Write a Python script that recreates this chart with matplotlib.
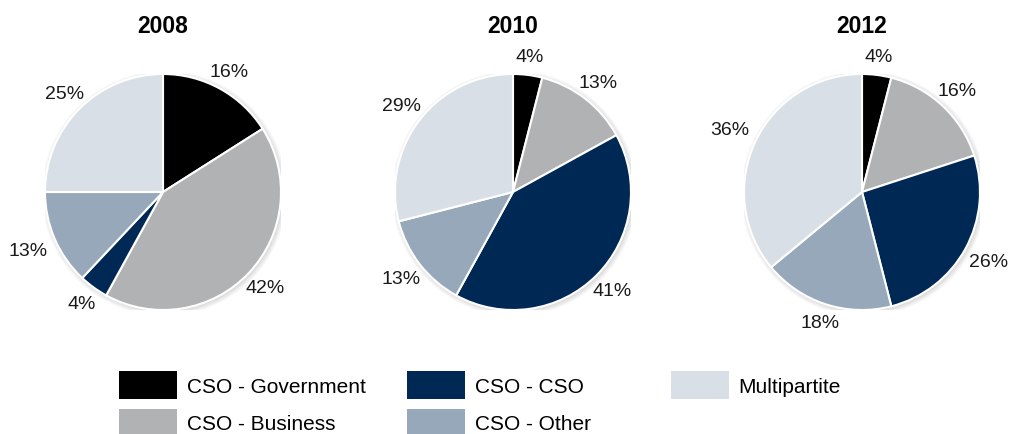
import numpy as np
import matplotlib.pyplot as plt
from matplotlib.patches import Circle, Patch

years = ["2008", "2010", "2012"]
categories = ["CSO - Government", "CSO - Business", "CSO - CSO", "CSO - Other", "Multipartite"]
share_2008 = [16, 42, 4, 13, 25]
share_2010 = [4, 13, 41, 13, 29]
share_2012 = [4, 16, 26, 18, 36]
shares = [share_2008, share_2010, share_2012]

colors = ["#000000", "#b1b2b4", "#002855", "#98a8bb", "#d9dfe6"]

plt.rcParams['font.family'] = ['Liberation Sans', 'DejaVu Sans']

W, H = 1012, 435
fig = plt.figure(figsize=(W / 100, H / 100), dpi=100)
renderer = fig.canvas.get_renderer()

centers_x = [163, 513, 862]
cy, r = 193, 118   # pie centre row and radius, pixels
gap = 12           # space between pie edge and label box, pixels

for year, vals, cx in zip(years, shares, centers_x):
    ax = fig.add_axes([(cx - r) / W, (H - cy - r) / H, 2 * r / W, 2 * r / H])
    # soft shadow behind the pie
    for k in range(6):
        ax.add_patch(Circle((0.012, -0.012), 1.0 + 0.008 * k, color="#000000",
                            alpha=0.025, lw=0, zorder=0))
    wedges, texts, autotexts = ax.pie(
        vals, colors=colors, startangle=90, counterclock=False,
        autopct=lambda p: f"{p:.0f}%", pctdistance=1.2,
        wedgeprops=dict(edgecolor="white", linewidth=1.5),
        textprops=dict(fontsize=14, color="#1a1a1a"))
    for w in wedges:
        w.set_zorder(2)

    # push each label out so its box sits a fixed gap off the rim
    for w, t in zip(wedges, autotexts):
        ang = np.deg2rad((w.theta1 + w.theta2) / 2)
        bb = t.get_window_extent(renderer)
        a, b = bb.width / 2, bb.height / 2 * 0.8
        c, s = abs(np.cos(ang)), abs(np.sin(ang))
        ext = min(a / c if c > 1e-6 else np.inf, b / s if s > 1e-6 else np.inf)
        d = (r + gap + ext) / r
        t.set_position((d * np.cos(ang), d * np.sin(ang)))
        t.set_va("center")
        t.set_ha("center")

    ax.set_xlim(-1, 1)
    ax.set_ylim(-1, 1)
    ax.set_aspect("equal")
    ax.axis("off")
    ax.text(0, (cy - 33) / r, year, ha="center", va="baseline", fontsize=16.5,
            fontweight="bold", clip_on=False)

# legend: one block per column
handles = [Patch(facecolor=c, edgecolor="none") for c in colors]
columns = [[0, 1], [2, 3], [4]]
col_x = [119, 407, 671]
for idx, x in zip(columns, col_x):
    fig.legend([handles[i] for i in idx], [categories[i] for i in idx],
               loc="upper left", bbox_to_anchor=(x / W, 1 - 372 / H),
               frameon=False, fontsize=15, handlelength=2.8,
               handleheight=1.7, handletextpad=0.45, labelspacing=0.45,
               borderpad=0, borderaxespad=0)

fig.savefig("out.png", dpi=100)
